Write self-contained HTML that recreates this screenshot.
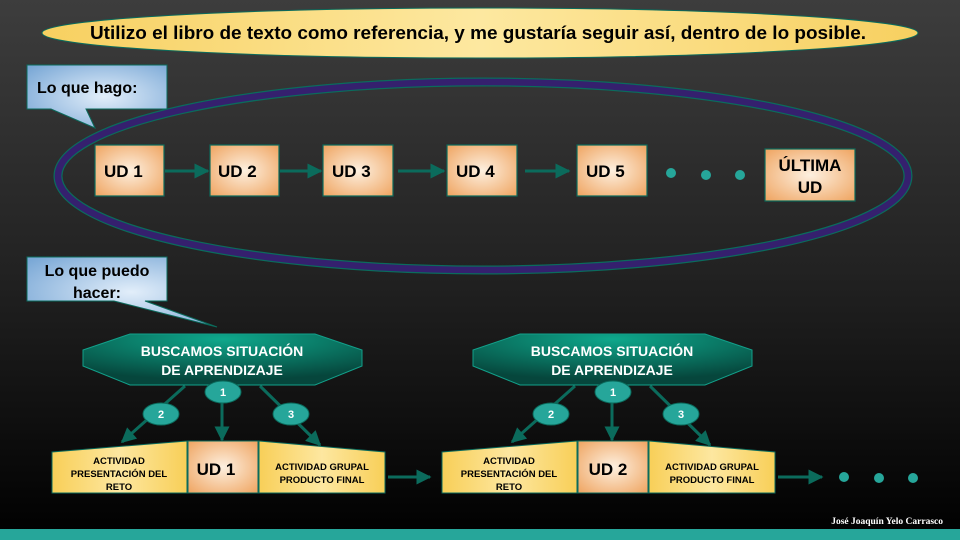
<!DOCTYPE html>
<html><head><meta charset="utf-8"><style>
html,body{margin:0;padding:0;width:960px;height:540px;overflow:hidden;background:#000}
svg{display:block}
text{font-family:"Liberation Sans",sans-serif;font-weight:bold}
</style></head><body>
<svg width="960" height="540" viewBox="0 0 960 540" xmlns="http://www.w3.org/2000/svg">
<defs>
<linearGradient id="bg" x1="0" y1="0" x2="0" y2="1">
<stop offset="0" stop-color="#3d3d3d"/><stop offset="0.5" stop-color="#222"/><stop offset="1" stop-color="#000"/></linearGradient>
<linearGradient id="yel" x1="0" y1="0" x2="1" y2="0">
<stop offset="0" stop-color="#f7d060"/><stop offset="0.5" stop-color="#fde8a0"/><stop offset="1" stop-color="#f7d060"/></linearGradient>
<radialGradient id="org" cx="0.5" cy="0.5" r="0.7">
<stop offset="0" stop-color="#fdf0e0"/><stop offset="1" stop-color="#efa460"/></radialGradient>
<radialGradient id="blu" cx="0.55" cy="0.5" r="0.7">
<stop offset="0" stop-color="#e2eefa"/><stop offset="1" stop-color="#7aa8d6"/></radialGradient>
<radialGradient id="tea" cx="0.5" cy="0.1" r="0.8">
<stop offset="0" stop-color="#0ea88c"/><stop offset="1" stop-color="#06463c"/></radialGradient>
<linearGradient id="ylb" x1="0" y1="0" x2="1" y2="0">
<stop offset="0" stop-color="#f8cf58"/><stop offset="0.5" stop-color="#fde7a0"/><stop offset="1" stop-color="#f8cf58"/></linearGradient>
<marker id="ah" viewBox="0 0 10 10" refX="9" refY="5" markerWidth="6" markerHeight="5" orient="auto"><path d="M0,0L10,5L0,10z" fill="#0b6b5c"/></marker>
</defs>
<rect width="960" height="540" fill="url(#bg)"/>
<rect x="0" y="529" width="960" height="11" fill="#26a69a"/>
<text x="943" y="524" text-anchor="end" font-size="9.5" fill="#fff" style="font-family:'Liberation Serif',serif">José Joaquín Yelo Carrasco</text>

<ellipse cx="480" cy="33" rx="438" ry="25" fill="url(#yel)" stroke="#0b6b5c" stroke-width="1"/>
<text x="478" y="39" text-anchor="middle" font-size="18" fill="#000" textLength="776" lengthAdjust="spacingAndGlyphs">Utilizo el libro de texto como referencia, y me gustaría seguir así, dentro de lo posible.</text>

<ellipse cx="483" cy="176" rx="425" ry="94" fill="none" stroke="#0b6b5c" stroke-width="9"/>
<ellipse cx="483" cy="176" rx="425" ry="94" fill="none" stroke="#35206e" stroke-width="6.5"/>

<path d="M27,65H167V109H86L95,128L51,109H27Z" fill="url(#blu)" stroke="#0b6b5c" stroke-width="1"/>
<text x="37" y="93" font-size="16" fill="#000">Lo que hago:</text>
<path d="M27,257H167V301H145L217,327L114,301H27Z" fill="url(#blu)" stroke="#0b6b5c" stroke-width="1"/>
<text x="97" y="276" text-anchor="middle" font-size="16" fill="#000">Lo que puedo</text>
<text x="97" y="298" text-anchor="middle" font-size="16" fill="#000">hacer:</text>

<g stroke="#0b6b5c" stroke-width="1.2">
<rect x="95" y="145" width="69" height="51" fill="url(#org)"/>
<rect x="210" y="145" width="69" height="51" fill="url(#org)"/>
<rect x="323" y="145" width="70" height="51" fill="url(#org)"/>
<rect x="447" y="145" width="70" height="51" fill="url(#org)"/>
<rect x="577" y="145" width="70" height="51" fill="url(#org)"/>
<rect x="765" y="149" width="90" height="52" fill="url(#org)"/>
</g>
<g font-size="17" fill="#000">
<text x="104" y="177">UD 1</text>
<text x="218" y="177">UD 2</text>
<text x="332" y="177">UD 3</text>
<text x="456" y="177">UD 4</text>
<text x="586" y="177">UD 5</text>
<text x="810" y="171" text-anchor="middle">ÚLTIMA</text>
<text x="810" y="193" text-anchor="middle">UD</text>
</g>
<g stroke="#0b6b5c" stroke-width="3" marker-end="url(#ah)">
<line x1="165" y1="171" x2="208" y2="171"/>
<line x1="280" y1="171" x2="321" y2="171"/>
<line x1="398" y1="171" x2="444" y2="171"/>
<line x1="525" y1="171" x2="569" y2="171"/>
</g>
<g fill="#26a69a"><circle cx="671" cy="173" r="5"/><circle cx="706" cy="175" r="5"/><circle cx="740" cy="175" r="5"/></g>

<g id="g1">
<g stroke="#0b6b5c" stroke-width="3">
<line x1="185" y1="386" x2="122" y2="442" marker-end="url(#ah)"/>
<line x1="222" y1="398" x2="222" y2="440" marker-end="url(#ah)"/>
<line x1="260" y1="386" x2="320" y2="445" marker-end="url(#ah)"/>
</g>
<path d="M83,350L130,334H315L362,350V366L315,385H130L83,366Z" fill="url(#tea)" stroke="#12a08a" stroke-width="1"/>
<text x="222" y="356" text-anchor="middle" font-size="14" fill="#fff">BUSCAMOS SITUACIÓN</text>
<text x="222" y="375" text-anchor="middle" font-size="14" fill="#fff">DE APRENDIZAJE</text>
<g fill="#26a69a" stroke="#0b6b5c" stroke-width="1">
<ellipse cx="223" cy="392" rx="18" ry="11"/>
<ellipse cx="161" cy="414" rx="18" ry="11"/>
<ellipse cx="291" cy="414" rx="18" ry="11"/>
</g>
<g font-size="11" fill="#fff" text-anchor="middle">
<text x="223" y="396">1</text><text x="161" y="418">2</text><text x="291" y="418">3</text>
</g>
<g stroke="#0b6b5c" stroke-width="1">
<path d="M52,452L187,441V493H52Z" fill="url(#ylb)"/>
<rect x="188" y="441" width="70" height="52" fill="url(#org)"/>
<path d="M259,441L385,452V493H259Z" fill="url(#ylb)"/>
</g>
<g font-size="9.5" fill="#000" text-anchor="middle">
<text x="119" y="464">ACTIVIDAD</text>
<text x="119" y="477">PRESENTACIÓN DEL</text>
<text x="119" y="490">RETO</text>
<text x="322" y="470">ACTIVIDAD GRUPAL</text>
<text x="322" y="483">PRODUCTO FINAL</text>
</g>
<text x="216" y="475" text-anchor="middle" font-size="17" fill="#000">UD 1</text>
<line x1="388" y1="477" x2="430" y2="477" stroke="#0b6b5c" stroke-width="3" marker-end="url(#ah)"/>
</g>

<g transform="translate(390,0)">
<g stroke="#0b6b5c" stroke-width="3">
<line x1="185" y1="386" x2="122" y2="442" marker-end="url(#ah)"/>
<line x1="222" y1="398" x2="222" y2="440" marker-end="url(#ah)"/>
<line x1="260" y1="386" x2="320" y2="445" marker-end="url(#ah)"/>
</g>
<path d="M83,350L130,334H315L362,350V366L315,385H130L83,366Z" fill="url(#tea)" stroke="#12a08a" stroke-width="1"/>
<text x="222" y="356" text-anchor="middle" font-size="14" fill="#fff">BUSCAMOS SITUACIÓN</text>
<text x="222" y="375" text-anchor="middle" font-size="14" fill="#fff">DE APRENDIZAJE</text>
<g fill="#26a69a" stroke="#0b6b5c" stroke-width="1">
<ellipse cx="223" cy="392" rx="18" ry="11"/>
<ellipse cx="161" cy="414" rx="18" ry="11"/>
<ellipse cx="291" cy="414" rx="18" ry="11"/>
</g>
<g font-size="11" fill="#fff" text-anchor="middle">
<text x="223" y="396">1</text><text x="161" y="418">2</text><text x="291" y="418">3</text>
</g>
<g stroke="#0b6b5c" stroke-width="1">
<path d="M52,452L187,441V493H52Z" fill="url(#ylb)"/>
<rect x="188" y="441" width="70" height="52" fill="url(#org)"/>
<path d="M259,441L385,452V493H259Z" fill="url(#ylb)"/>
</g>
<g font-size="9.5" fill="#000" text-anchor="middle">
<text x="119" y="464">ACTIVIDAD</text>
<text x="119" y="477">PRESENTACIÓN DEL</text>
<text x="119" y="490">RETO</text>
<text x="322" y="470">ACTIVIDAD GRUPAL</text>
<text x="322" y="483">PRODUCTO FINAL</text>
</g>
<text x="218" y="475" text-anchor="middle" font-size="17" fill="#000">UD 2</text>
<line x1="388" y1="477" x2="432" y2="477" stroke="#0b6b5c" stroke-width="3" marker-end="url(#ah)"/>
</g>
<g fill="#26a69a"><circle cx="844" cy="477" r="5"/><circle cx="879" cy="478" r="5"/><circle cx="913" cy="478" r="5"/></g>
</svg>
</body></html>
